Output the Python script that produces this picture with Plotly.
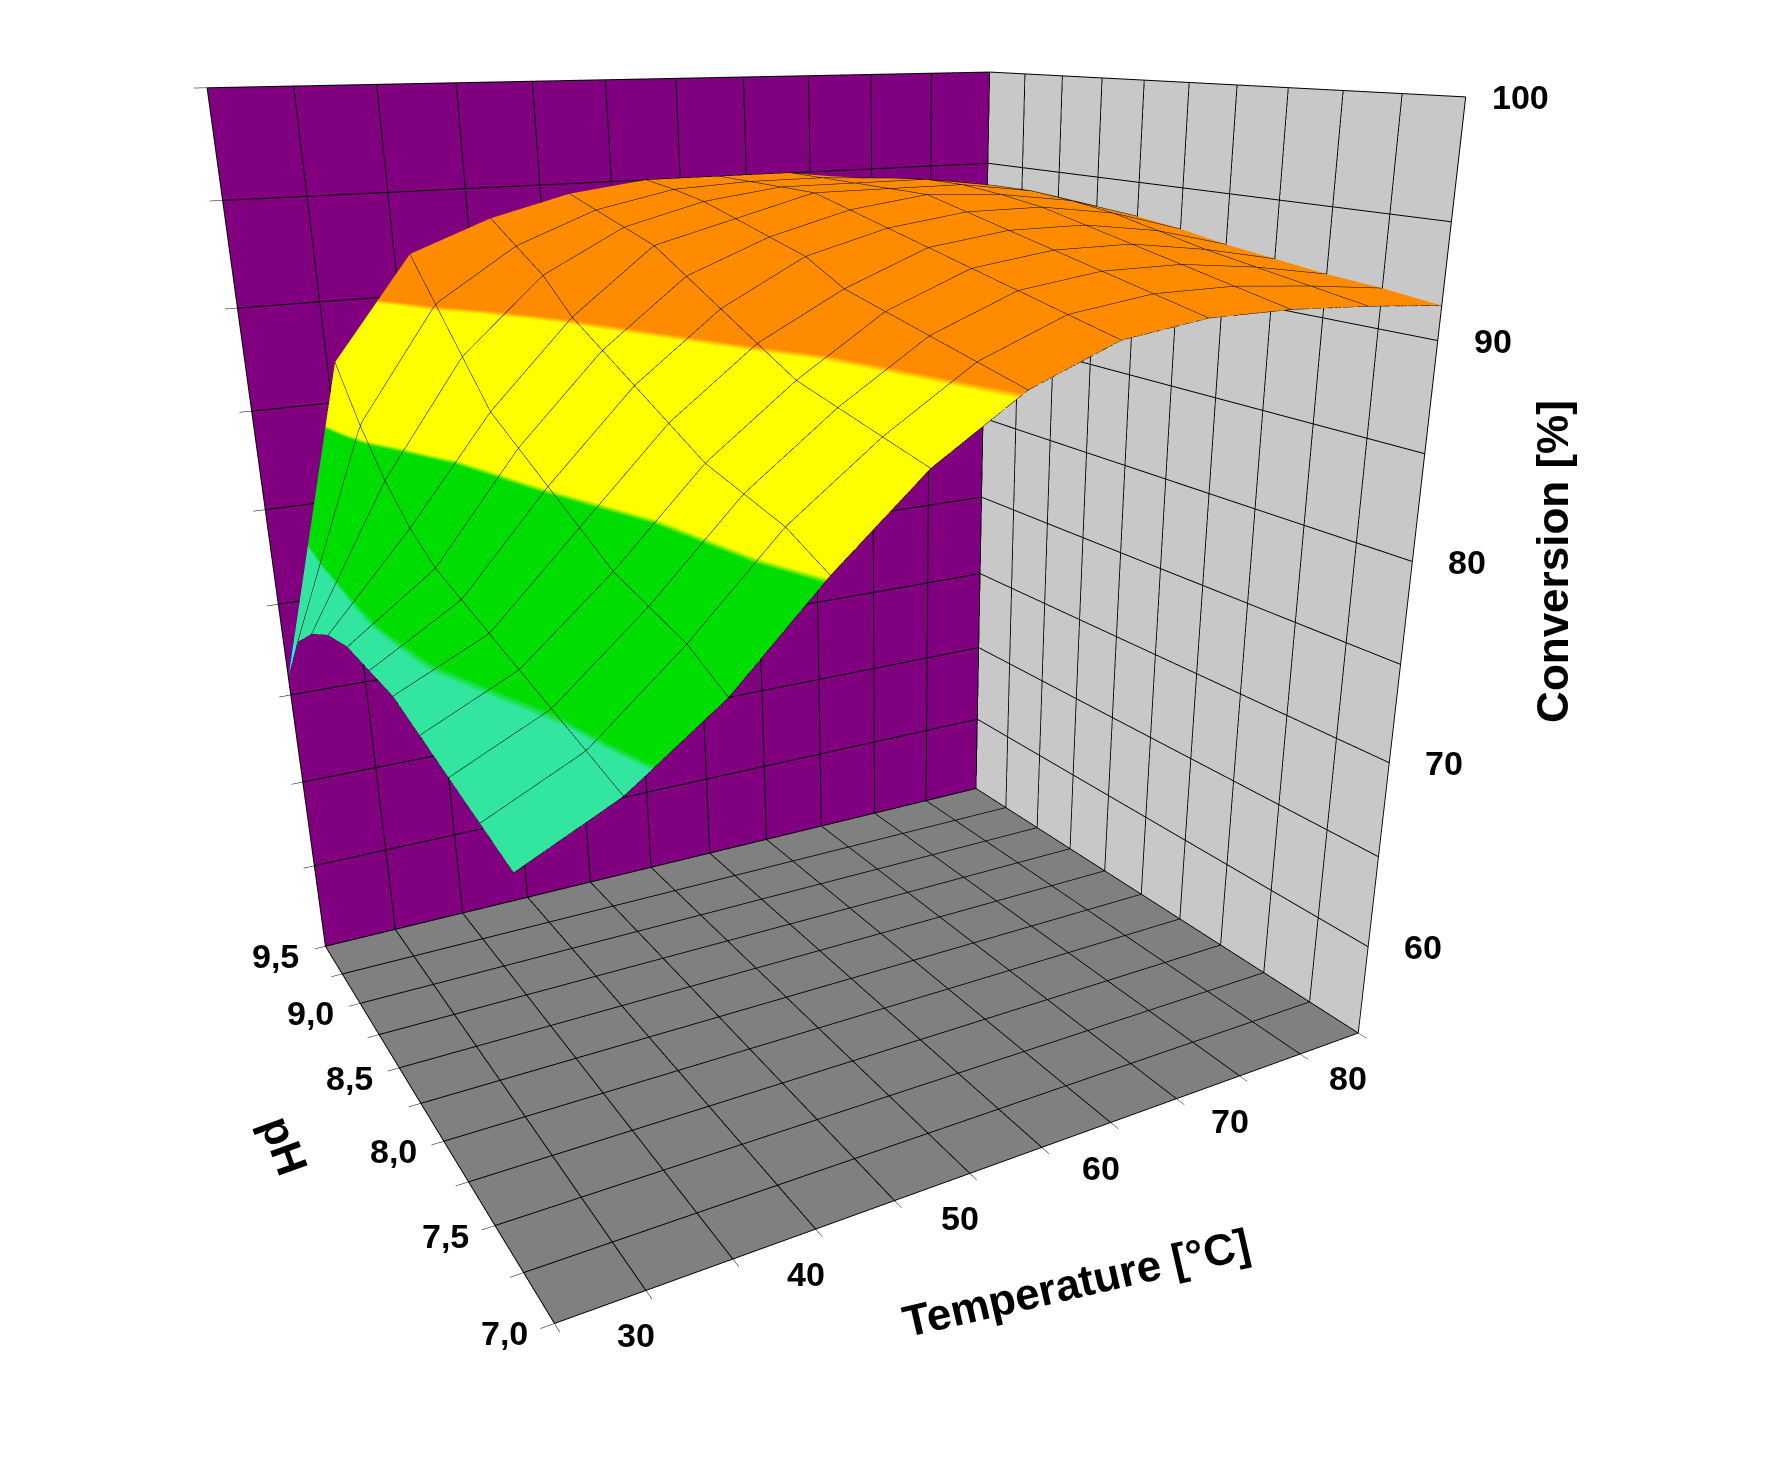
import plotly.graph_objects as go

ph = [7.0, 7.25, 7.5, 7.75, 8.0, 8.25, 8.5, 8.75, 9.0, 9.25, 9.5]
temp = [25, 30.5, 36, 41.5, 47, 52.5, 58, 63.5, 69, 74.5, 80]
conv = [
    [75, 77, 80, 84, 87.5, 90, 91.5, 92, 92, 91.8, 91.5],
    [75.5, 77.5, 81, 85, 88, 90.5, 92, 92.5, 92.5, 92.2, 91.8],
    [76, 78, 81.5, 85.5, 88.5, 91, 92.5, 93, 93, 92.6, 92],
    [76.5, 78.5, 82, 86, 89, 91.5, 93, 93.5, 93.5, 93, 92.3],
    [77, 79, 83, 87, 90, 92, 93.5, 94, 94, 93.5, 92.6],
    [77, 79.5, 84, 88, 91, 93, 94, 94.5, 94.5, 94, 93],
    [77, 80, 85, 89, 92, 93.5, 94.5, 95, 94.8, 94.3, 93.3],
    [76.5, 81, 86, 90, 93, 94, 95, 95, 95, 94.5, 93.5],
    [75.5, 82.5, 88, 91.5, 93.5, 94.5, 95, 95, 95, 94.5, 93.5],
    [74, 84.5, 90, 92.5, 94, 94.8, 95, 95, 94.8, 94.3, 93.3],
    [71, 87, 92, 93.5, 94.5, 95, 95, 95, 94.5, 94, 93],
]

t_ticks = [25, 30, 35, 40, 45, 50, 55, 60, 65, 70, 75, 80]
t_labels = [30, 40, 50, 60, 70, 80]
ph_ticks = [7.0, 7.25, 7.5, 7.75, 8.0, 8.25, 8.5, 8.75, 9.0, 9.25, 9.5]
ph_labels = [7.0, 7.5, 8.0, 8.5, 9.0, 9.5]
z_ticks = [55, 60, 65, 70, 75, 80, 85, 90, 95, 100]
z_labels = [60, 70, 80, 90, 100]

def f(v):
    return (v - 55) / 45.0

cs = [
    [0.0, "#00ffff"], [f(73), "#00ffff"],
    [f(73), "#33e6a0"], [f(78), "#33e6a0"],
    [f(78), "#00dd00"], [f(84), "#00dd00"],
    [f(84), "#ffff00"], [f(90), "#ffff00"],
    [f(90), "#ff8c00"], [1.0, "#ff8c00"],
]

fig = go.Figure(go.Surface(
    x=temp, y=ph, z=conv, colorscale=cs, cmin=55, cmax=100, showscale=False,
    lighting=dict(ambient=1, diffuse=0, specular=0),
    contours=dict(
        x=dict(show=True, start=25, end=80, size=5.5, color="black", width=3, highlight=False),
        y=dict(show=True, start=7.0, end=9.5, size=0.25, color="black", width=3, highlight=False),
        z=dict(highlight=False),
    ),
))

lf = dict(family="Liberation Sans", size=34, color="black")
tf = dict(family="Liberation Sans", size=44, color="black")
ax = dict(showbackground=True, gridcolor="black", gridwidth=2, linecolor="black",
          linewidth=2, showspikes=False, showticklabels=False, title=dict(text=""),
          ticks="outside", tickcolor="black", ticklen=10)

annots = []
annots += [dict(x=80, y=7.0, z=v, text="<b>%d</b>" % v, showarrow=False, xshift=55, font=lf)
           for v in z_labels]
annots += [dict(x=v, y=7.0, z=55, text="<b>%d</b>" % v, showarrow=False, xshift=-10, yshift=-45, font=lf)
           for v in t_labels]
annots += [dict(x=25, y=v, z=55, text="<b>%s</b>" % ("%.1f" % v).replace(".", ","), showarrow=False,
                xshift=-50, yshift=-10, font=lf) for v in ph_labels]
annots.append(dict(x=80, y=7.0, z=80, text="<b>Conversion [%]</b>", showarrow=False, textangle=-90,
                   xshift=140, font=tf))
annots.append(dict(x=56, y=7.0, z=55, text="<b>Temperature [°C]</b>", showarrow=False, textangle=-13,
                   xshift=20, yshift=-140, font=tf))
annots.append(dict(x=25, y=8.1, z=55, text="<b>pH</b>", showarrow=False, textangle=70,
                   xshift=-150, yshift=-20, font=tf))

fig.update_layout(
    width=1773, height=1484, paper_bgcolor="white",
    margin=dict(l=0, r=0, t=0, b=0),
    font=dict(family="Liberation Sans"),
    scene=dict(
        xaxis=dict(ax, range=[25, 80], tickvals=t_ticks, backgroundcolor="#c8c8c8"),
        yaxis=dict(ax, range=[7.0, 9.5], tickvals=ph_ticks, backgroundcolor="#800080"),
        zaxis=dict(ax, range=[55, 100], tickvals=z_ticks, backgroundcolor="#808080"),
        aspectmode="manual", aspectratio=dict(x=1.2, y=1.0, z=1.25),
        camera=dict(eye=dict(x=-1.08, y=-2.06, z=0.72), center=dict(x=0.13, y=0, z=-0.27)),
        annotations=annots,
    ),
)
fig.write_html("out.html")
